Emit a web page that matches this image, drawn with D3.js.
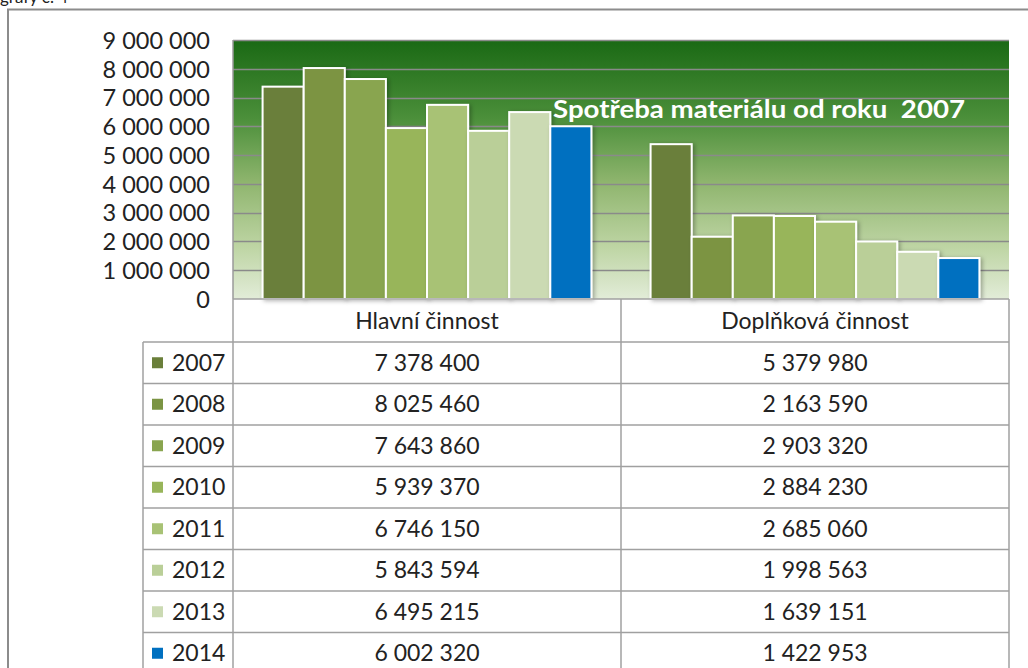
<!DOCTYPE html>
<html><head><meta charset="utf-8">
<script src="https://cdn.jsdelivr.net/npm/d3@7"></script>
<style>
html,body{margin:0;padding:0;background:#fff;}
svg{display:block;font-family:Lato,"Open Sans",sans-serif;}
</style></head>
<body>
<svg id="c" width="1028" height="668"></svg>
<script>
const categories = ["Hlavní činnost", "Doplňková činnost"];
const years = ["2007","2008","2009","2010","2011","2012","2013","2014"];
const hlavni = [7378400, 8025460, 7643860, 5939370, 6746150, 5843594, 6495215, 6002320];
const doplnkova = [5379980, 2163590, 2903320, 2884230, 2685060, 1998563, 1639151, 1422953];
const yTicks = [0,1000000,2000000,3000000,4000000,5000000,6000000,7000000,8000000,9000000];
const colors = ["#6a7f3a","#7b9443","#89a54f","#98b55a","#a8c275","#bacf98","#cbdab3","#0070c0"];
const title = "Spotřeba materiálu od roku  2007";

const svg = d3.select("#c");
const loc = d3.formatLocale({decimal:",", thousands:"\u00a0", grouping:[3], currency:["",""]});
const fmt = loc.format(",d");

const L = 233, R = 1009, T = 40, B = 299;
const y = d3.scaleLinear().domain([0, 9000000]).range([B, T]);
const x0 = d3.scaleBand().domain(categories).range([L, R]).padding(0);
const x1 = d3.scaleBand().domain(years).range([0, x0.bandwidth()]).paddingInner(0).paddingOuter(0.72);

// top cut text
svg.append("text").attr("x", 0).attr("y", 3).attr("font-size", 17).attr("fill", "#222").text("grafy č. 4");
// outer frame
svg.append("path").attr("d", `M8,668 V9.5 H1028`).attr("fill","none").attr("stroke","#8c8c8c").attr("stroke-width",2);

// gradient
const defs = svg.append("defs");
const g = defs.append("linearGradient").attr("id","bg").attr("x1",0).attr("y1",0).attr("x2",0).attr("y2",1);
[[0,"#1a6914"],[0.3,"#4b8f3a"],[0.55,"#8fb56e"],[0.8,"#bed5a4"],[1,"#e2ecd8"]].forEach(s=>g.append("stop").attr("offset",s[0]).attr("stop-color",s[1]));
const f = defs.append("filter").attr("id","sh").attr("x","-20%").attr("y","-20%").attr("width","150%").attr("height","150%");
f.append("feDropShadow").attr("dx",2).attr("dy",1).attr("stdDeviation",2).attr("flood-color","#000").attr("flood-opacity",0.3);

svg.append("rect").attr("x",L).attr("y",T).attr("width",R-L).attr("height",B-T).attr("fill","url(#bg)");

// gridlines
svg.append("g").selectAll("line").data(yTicks.filter(d=>d>0)).join("line")
  .attr("x1",L).attr("x2",R).attr("y1",d=>Math.round(y(d))+0.5).attr("y2",d=>Math.round(y(d))+0.5)
  .attr("stroke","#8a8a8a").attr("stroke-width",1.5);
svg.append("line").attr("x1",L).attr("x2",L).attr("y1",T).attr("y2",B).attr("stroke","#9a9a9a").attr("stroke-width",1.5);

// y axis labels
const yAxis = d3.axisLeft(y).tickValues(yTicks).tickFormat(fmt).tickSize(0).tickPadding(0);
const ya = svg.append("g").attr("transform",`translate(210,0)`).call(yAxis);
ya.select(".domain").remove();
ya.selectAll("text").attr("font-size",23.5).attr("fill","#222").attr("font-family","Lato,'Open Sans',sans-serif").attr("dy","0.35em");

// bars
const series = [hlavni, doplnkova];
const groups = svg.append("g").selectAll("g").data(categories).join("g")
  .attr("transform", d=>`translate(${x0(d)},0)`);
groups.selectAll("rect").data((d,i)=>years.map((yr,j)=>({yr, v: series[i][j], j}))).join("rect")
  .attr("x", d=>x1(d.yr)).attr("width", x1.bandwidth())
  .attr("y", d=>y(d.v)).attr("height", d=>B - y(d.v))
  .attr("fill", d=>colors[d.j]).attr("stroke","#fff").attr("stroke-width",2)
  .attr("filter","url(#sh)");

// title
svg.append("text").attr("x",553).attr("y",118).attr("font-size",25).attr("font-weight","bold")
  .attr("fill","#fff").attr("textLength",412).attr("lengthAdjust","spacingAndGlyphs")
  .style("white-space","pre").text(title);

// data table
const rowH = 41.5, headTop = B, headBot = 342;
const colLeft = 143;
const tbl = svg.append("g");
const lineC = "#a0a0a0";
[L, x0("Doplňková činnost"), R].forEach(xv=>{
  tbl.append("line").attr("x1",xv).attr("x2",xv).attr("y1",headTop).attr("y2",668).attr("stroke",lineC).attr("stroke-width",1.5);
});
tbl.append("line").attr("x1",colLeft).attr("x2",colLeft).attr("y1",headBot).attr("y2",668).attr("stroke",lineC).attr("stroke-width",1.5);
tbl.append("line").attr("x1",L).attr("x2",R).attr("y1",headTop).attr("y2",headTop).attr("stroke",lineC).attr("stroke-width",1.5);
years.forEach((yr,i)=>{
  const yy = headBot + i*rowH;
  tbl.append("line").attr("x1",colLeft).attr("x2",R).attr("y1",yy).attr("y2",yy).attr("stroke",lineC).attr("stroke-width",1.5);
});
categories.forEach(c=>{
  tbl.append("text").attr("x", x0(c)+x0.bandwidth()/2).attr("y",(headTop+headBot)/2).attr("dy","0.35em")
    .attr("text-anchor","middle").attr("font-size",23).attr("fill","#222").text(c);
});
years.forEach((yr,i)=>{
  const cy = headBot + i*rowH + rowH/2;
  tbl.append("rect").attr("x",152).attr("y",cy-5.5).attr("width",11).attr("height",11).attr("fill",colors[i]);
  tbl.append("text").attr("x",172).attr("y",cy).attr("dy","0.35em").attr("font-size",23).attr("fill","#222").text(yr);
  categories.forEach((c,k)=>{
    tbl.append("text").attr("x", x0(c)+x0.bandwidth()/2).attr("y",cy).attr("dy","0.35em")
      .attr("text-anchor","middle").attr("font-size",23).attr("fill","#222").text(fmt(series[k][i]));
  });
});
</script>
</body></html>
